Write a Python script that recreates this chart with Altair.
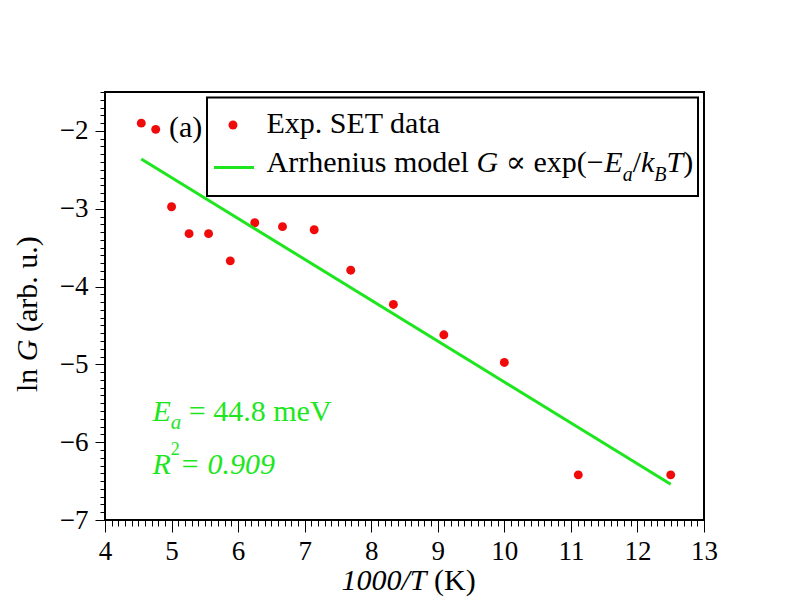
import altair as alt
import pandas as pd

# ---------------- data ----------------
inv_T = [4.545, 4.762, 5.0, 5.263, 5.556, 5.882, 6.25, 6.667, 7.143, 7.692,
         8.333, 9.091, 10.0, 11.111, 12.5]
ln_G = [-1.90, -1.98, -2.975, -3.32, -3.32, -3.67, -3.18, -3.23, -3.27, -3.79,
        -4.23, -4.62, -4.975, -6.42, -6.42]
fit_x = [4.545, 12.5]
fit_y = [-2.36, -6.54]

x_domain = [4, 13]
y_domain = [-7, -1.5]
x_ticks = [round(4 + i / 10, 1) for i in range(91)]
y_ticks = [round(-7 + i / 10, 1) for i in range(56)]

RED = "#f00a0a"
GREEN = "#1ee61e"
SERIF = "Liberation Serif, Times New Roman, DejaVu Serif, serif"

W, H = 599, 428
L, T = 105, 92  # page position of the plot area

# ---------------- rich text helper ----------------
REG = {' ': 250, 'A': 722, 'r': 333, 'h': 500, 'e': 444, 'n': 500, 'i': 278, 'u': 500,
       's': 389, 'm': 778, 'o': 500, 'd': 500, 'l': 278, 'x': 500, 'p': 500, '(': 333,
       ')': 333, '\u2212': 564, '\u221d': 700, '/': 278, '=': 564, '4': 500, '.': 250,
       '8': 500, 'V': 722, 'K': 722, 'a': 444, 'b': 500, 'E': 611, 'S': 556, 'T': 611,
       't': 278, '2': 500, '0': 500, '9': 500, '1': 500}
ITA = {' ': 250, 'G': 722, 'E': 611, 'a': 500, 'k': 444, 'B': 611, 'T': 556, 'R': 611,
       '=': 675, '0': 500, '9': 500, '.': 250, '1': 500, '/': 278}


def width(text, style, size):
    tab = ITA if style == "italic" else REG
    return sum(tab.get(c, 500) for c in text) * size / 1000.0


rows = []


def run(px, py, parts, color, angle=0):
    """parts: (text, style, size, shift). px, py are page coordinates."""
    cx, cy = px - L, py - T
    for text, style, size, shift in parts:
        lead = len(text) - len(text.lstrip(" "))
        skip = width(" " * lead, style, size)
        shown = text.strip(" ")
        if angle == 0:
            rows.append(dict(px=cx + skip, py=cy + shift, text=shown, style=style,
                             size=size, color=color, angle=0))
            cx += width(text, style, size)
        else:
            rows.append(dict(px=cx + shift, py=cy - skip, text=shown, style=style,
                             size=size, color=color, angle=angle))
            cy -= width(text, style, size)


FS = 30
# legend texts
run(266.5, 133, [("Exp. SET data", "normal", FS, 0)], "black")
run(266.5, 172, [("Arrhenius model ", "normal", FS, 0), ("G", "italic", FS, 0),
                 (" \u221d exp(\u2212", "normal", FS, 0), ("E", "italic", FS, 0),
                 ("a", "italic", 20, 9), ("/", "normal", FS, 0), ("k", "italic", FS, 0),
                 ("B", "italic", 20, 9), ("T", "italic", FS, 0), (")", "normal", FS, 0)],
    "black")
# panel label
run(169, 137, [("(a)", "normal", FS, 0)], "black")
# annotations
run(152.5, 421, [("E", "italic", FS, 0), ("a", "italic", 21, 8),
                 (" = 44.8 meV", "normal", FS, 0)], GREEN)
run(152.5, 474, [("R", "italic", FS, 0), ("2", "normal", 18, -19),
                 ("= 0.909", "italic", FS, 0)], GREEN)
# axis titles
run(341.5, 590, [("1000/T", "italic", FS, 0), (" (K)", "normal", FS, 0)], "black")
run(37, 392, [("ln ", "normal", FS, 0), ("G", "italic", FS, 0),
              (" (arb. u.)", "normal", FS, 0)], "black", angle=270)

texts = pd.DataFrame(rows)

# ---------------- chart ----------------
MAJOR = "abs(datum.value - round(datum.value)) < 0.001"
LABEL = "abs(datum.value - round(datum.value)) < 0.001 ? replace(format(round(datum.value), 'd'), '-', '\u2212') : ''"

data = pd.DataFrame({"inv_T": inv_T, "ln_G": ln_G})
fit = pd.DataFrame({"inv_T": fit_x, "ln_G": fit_y})

x_enc = alt.X("inv_T:Q", scale=alt.Scale(domain=x_domain, nice=False, zero=False),
              axis=alt.Axis(values=x_ticks, tickCount=1000, labelExpr=LABEL, title=None,
                            domain=False, grid=False, labelFlush=False, labelOverlap=False,
                            labelPadding=6, labelFontSize=27, labelFont=SERIF,
                            labelColor="black", tickColor="black", tickWidth=1,
                            tickSize={"condition": {"test": MAJOR, "value": 12}, "value": 6}))
y_enc = alt.Y("ln_G:Q", scale=alt.Scale(domain=y_domain, nice=False, zero=False),
              axis=alt.Axis(values=y_ticks, tickCount=1000, labelExpr=LABEL, title=None,
                            domain=False, grid=False, labelOverlap=False, labelPadding=7,
                            labelFontSize=27, labelFont=SERIF, labelColor="black",
                            tickColor="black", tickWidth=1,
                            tickSize={"condition": {"test": MAJOR, "value": 10}, "value": 5}))

points = alt.Chart(data).mark_circle(color=RED, size=80, opacity=1).encode(x=x_enc, y=y_enc)
line = alt.Chart(fit).mark_line(color=GREEN, strokeWidth=3).encode(x="inv_T:Q", y="ln_G:Q")

leg_box = pd.DataFrame({"x1": [207 - L], "x2": [698 - L], "y1": [97.5 - T], "y2": [196 - T]})
box = alt.Chart(leg_box).mark_rect(fill="white", stroke="black", strokeWidth=2).encode(
    x=alt.X("x1:Q", scale=None), x2="x2:Q", y=alt.Y("y1:Q", scale=None), y2="y2:Q")

leg_dot = pd.DataFrame({"px": [233 - L], "py": [125 - T]})
dot = alt.Chart(leg_dot).mark_circle(color=RED, size=80, opacity=1).encode(
    x=alt.X("px:Q", scale=None), y=alt.Y("py:Q", scale=None))

leg_line = pd.DataFrame({"x1": [214 - L], "x2": [254 - L], "y1": [167.5 - T]})
lrule = alt.Chart(leg_line).mark_rule(color=GREEN, strokeWidth=3).encode(
    x=alt.X("x1:Q", scale=None), x2="x2:Q", y=alt.Y("y1:Q", scale=None))


def text_layer(style):
    return alt.Chart(texts[texts["style"] == style]).mark_text(
        align="left", baseline="alphabetic", font=SERIF, fontStyle=style).encode(
        x=alt.X("px:Q", scale=None), y=alt.Y("py:Q", scale=None), text="text:N",
        size=alt.Size("size:Q", scale=None), color=alt.Color("color:N", scale=None),
        angle=alt.Angle("angle:Q", scale=None))


chart = alt.layer(points, line, box, dot, lrule, text_layer("normal"), text_layer("italic")).properties(
    width=W, height=H,
    autosize=alt.AutoSizeParams(type="none"),
    padding={"left": L - 8, "top": T - 8, "right": 60, "bottom": 90},
    background="white",
).configure_view(stroke="black", strokeWidth=2)

chart.save("out.html", embed_options={"renderer": "svg", "actions": False})
